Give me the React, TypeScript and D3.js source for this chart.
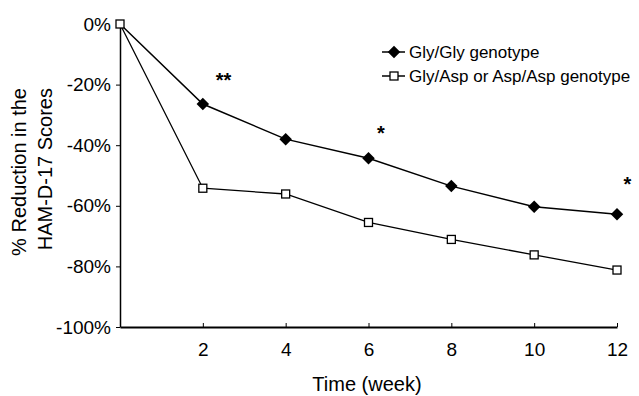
import * as d3 from "d3";
import { useRef, useEffect } from "react";

// data
const weeks = [0, 2, 4, 6, 8, 10, 12];
const glyGly = [0, -26.4, -38, -44.3, -53.5, -60.3, -62.8];
const glyAsp = [0, -54.2, -56.1, -65.5, -71.1, -76.2, -81.2];
const yTicks = [0, -20, -40, -60, -80, -100];
const xTicks = [2, 4, 6, 8, 10, 12];
const stars = [
  { week: 2.5, value: -20.7, label: "**" },
  { week: 6.3, value: -38.2, label: "*" },
  { week: 12.25, value: -55, label: "*" },
];

export default function App() {
  const svgRef = useRef<SVGSVGElement>(null);

  useEffect(() => {
    const svg = d3.select(svgRef.current);
    svg.selectAll("*").remove();
    const font = "'Liberation Sans', Arial, sans-serif";

    const x = d3.scaleLinear().domain([0, 12]).range([120, 617]);
    const y = d3.scaleLinear().domain([0, -100]).range([24, 327]);

    // axes
    const xAxis = svg.append("g").attr("transform", `translate(0,${y(-100)})`)
      .call(d3.axisBottom(x).tickValues(xTicks).tickSizeInner(-4).tickSizeOuter(0).tickPadding(16).tickFormat(d3.format("d")));
    xAxis.select(".domain").attr("stroke-width", 2);
    xAxis.selectAll("text").attr("font-family", font).attr("font-size", 19).attr("fill", "#000");

    const yAxis = svg.append("g").attr("transform", `translate(${x(0)},0)`)
      .call(d3.axisLeft(y).tickValues(yTicks).tickSize(4).tickSizeOuter(0).tickPadding(5).tickFormat(d => `${d}%`));
    yAxis.select(".domain").attr("stroke-width", 1.5);
    yAxis.selectAll("text").attr("font-family", font).attr("font-size", 19).attr("fill", "#000");

    const line = d3.line<number>().x((_, i) => x(weeks[i])).y(d => y(d));

    // open squares series
    svg.append("path").attr("d", line(glyAsp)).attr("fill", "none").attr("stroke", "#000").attr("stroke-width", 1.3);
    // filled diamonds series
    svg.append("path").attr("d", line(glyGly)).attr("fill", "none").attr("stroke", "#000").attr("stroke-width", 1.5);

    const diamond = d3.symbol().type(d3.symbolDiamond2).size(100);
    svg.selectAll(".dia").data(glyGly.slice(1)).enter().append("path")
      .attr("d", diamond).attr("transform", (d, i) => `translate(${x(weeks[i + 1])},${y(d)})`).attr("fill", "#000");

    svg.selectAll(".sq").data(glyAsp).enter().append("rect")
      .attr("x", (d, i) => x(weeks[i]) - 4).attr("y", d => y(d) - 4).attr("width", 8).attr("height", 8)
      .attr("fill", "#fff").attr("stroke", "#000").attr("stroke-width", 1.3);

    // significance stars
    svg.selectAll(".star").data(stars).enter().append("text")
      .attr("x", d => x(d.week)).attr("y", d => y(d.value)).attr("text-anchor", "middle")
      .attr("font-family", font).attr("font-size", 20).attr("font-weight", "bold").text(d => d.label);

    // legend
    const legend = [
      { label: "Gly/Gly genotype", sym: "diamond" },
      { label: "Gly/Asp or Asp/Asp genotype", sym: "square" },
    ];
    legend.forEach((l, i) => {
      const ly = 52 + i * 24;
      svg.append("line").attr("x1", 382).attr("x2", 405).attr("y1", ly).attr("y2", ly).attr("stroke", "#000").attr("stroke-width", 1.5);
      if (l.sym === "diamond") {
        svg.append("path").attr("d", diamond).attr("transform", `translate(394,${ly})`).attr("fill", "#000");
      } else {
        svg.append("rect").attr("x", 390).attr("y", ly - 4).attr("width", 8).attr("height", 8)
          .attr("fill", "#fff").attr("stroke", "#000").attr("stroke-width", 1.3);
      }
      svg.append("text").attr("x", 409).attr("y", ly + 6).attr("font-family", font).attr("font-size", 17).text(l.label);
    });

    // axis titles
    svg.append("text").attr("x", 367).attr("y", 391).attr("text-anchor", "middle")
      .attr("font-family", font).attr("font-size", 20).text("Time (week)");
    svg.append("text").attr("transform", "translate(26,88) rotate(-90)").attr("text-anchor", "end")
      .attr("font-family", font).attr("font-size", 20).text("% Reduction in the");
    svg.append("text").attr("transform", "translate(52,88) rotate(-90)").attr("text-anchor", "end")
      .attr("font-family", font).attr("font-size", 20).text("HAM-D-17 Scores");
  }, []);

  return <svg ref={svgRef} width={639} height={396} style={{ position: "absolute", left: 0, top: 0, background: "#fff" }} />;
}
